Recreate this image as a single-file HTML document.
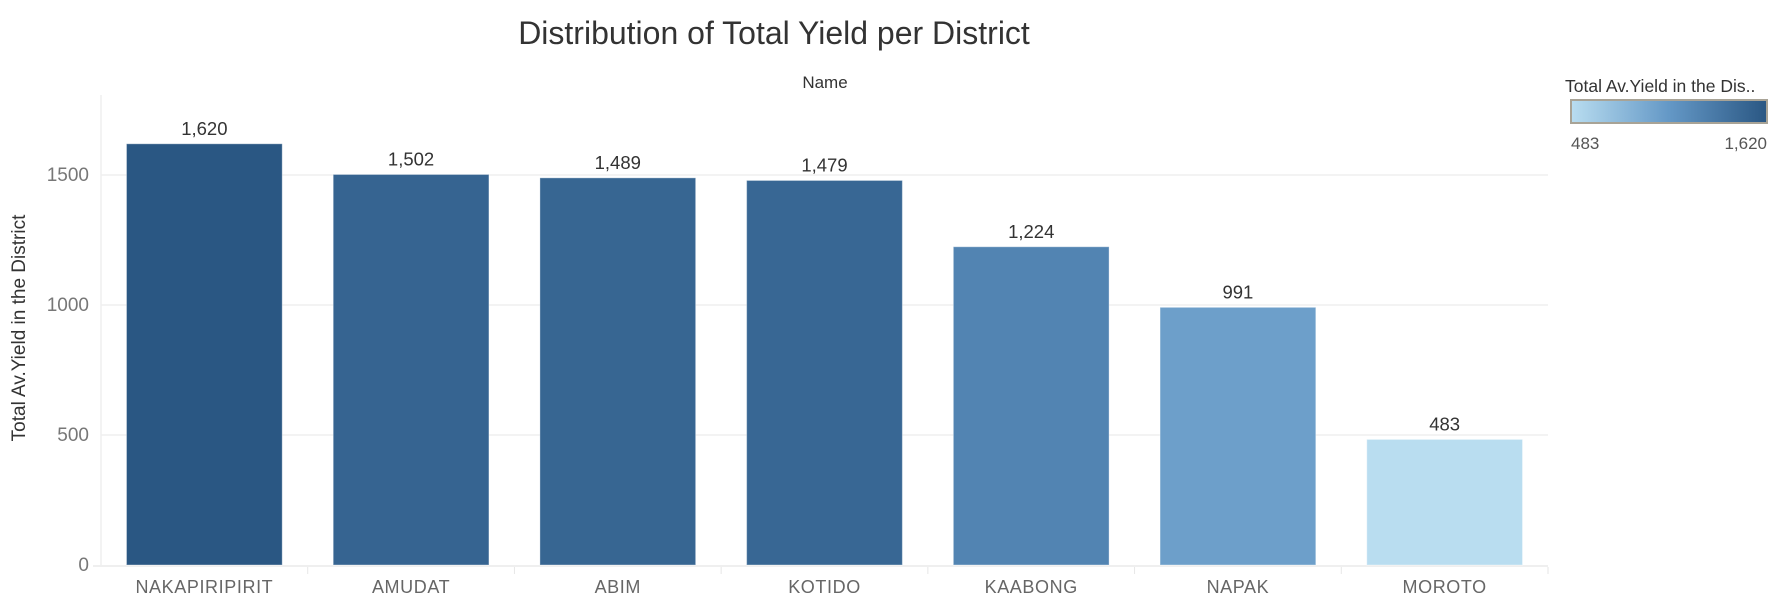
<!DOCTYPE html>
<html><head><meta charset="utf-8"><style>
body{margin:0;background:#fff;width:1775px;height:599px;overflow:hidden;font-family:"Liberation Sans",sans-serif}
svg text{font-family:"Liberation Sans",sans-serif}
</style></head><body>
<svg id="chart" width="1775" height="599">
<text x="774" y="44" font-size="32" fill="#333" text-anchor="middle">Distribution of Total Yield per District</text>
<text x="825" y="88" font-size="17" fill="#333" text-anchor="middle">Name</text>
<text x="25" y="328" font-size="19" fill="#333" text-anchor="middle" transform="rotate(-90 25 328)">Total Av.Yield in the District</text>
<g>
<text x="1565" y="92" font-size="17.5" fill="#333">Total Av.Yield in the Dis..</text>
<defs><linearGradient id="lg" x1="0" x2="1"><stop offset="0" stop-color="#b9ddf0"/><stop offset="0.5" stop-color="#6498c6"/><stop offset="1" stop-color="#2a5783"/></linearGradient></defs>
<rect x="1571" y="100" width="196" height="23" fill="url(#lg)" stroke="#a8a396" stroke-width="2"/>
<text x="1571" y="149" font-size="17" fill="#555">483</text>
<text x="1767" y="149" font-size="17" fill="#555" text-anchor="end">1,620</text>
</g>
<g id="plot"></g>
</svg>
<script>
const categories=["NAKAPIRIPIRIT","AMUDAT","ABIM","KOTIDO","KAABONG","NAPAK","MOROTO"];
const values=[1620,1502,1489,1479,1224,991,483];
const valueLabels=["1,620","1,502","1,489","1,479","1,224","991","483"];
const yTicks=[0,500,1000,1500];

const NS="http://www.w3.org/2000/svg";
const plot=document.getElementById('plot');
const left=101,right=1548,zeroY=565,perUnit=130/500;
const band=(right-left)/categories.length,pad=25.5;
const y=v=>zeroY-v*perUnit;
const x=i=>left+i*band;
function mk(t,a){const e=document.createElementNS(NS,t);for(const k in a)e.setAttribute(k,a[k]);plot.appendChild(e);return e;}
const vmin=Math.min(...values),vmax=Math.max(...values);
const c0=[185,221,240],c1=[100,152,198],c2=[42,87,131];
function color(v){let t=(v-vmin)/(vmax-vmin||1);let a,b,u;if(t<0.5){a=c0;b=c1;u=t*2}else{a=c1;b=c2;u=(t-0.5)*2}
return 'rgb('+a.map((c,i)=>Math.round(c+(b[i]-c)*u)).join(',')+')';}
yTicks.forEach(t=>{
 if(t>0){const g=mk('line',{x1:left,x2:right,y1:y(t),y2:y(t),stroke:'#efefef','stroke-width':1.5});
 
 }
 const l=mk('text',{x:89,y:y(t)+6,'font-size':19,fill:'#777','text-anchor':'end'});l.textContent=t;
 
 
});
const ax=mk('line',{x1:left,x2:left,y1:95,y2:zeroY,stroke:'#efefef','stroke-width':1.5});


const bx=mk('line',{x1:left-8,x2:right,y1:zeroY+1,y2:zeroY+1,stroke:'#efefef','stroke-width':2});


categories.forEach((c,i)=>{
 const tk=mk('line',{x1:x(i+1),x2:x(i+1),y1:zeroY+2,y2:zeroY+9,stroke:'#e6e6e6'});
 
 
 const b=mk('rect',{x:x(i)+pad,y:y(values[i]),width:band-2*pad,height:zeroY-y(values[i]),fill:color(values[i]),stroke:'rgba(255,255,255,0.35)','stroke-width':1});
 
 
 const v=mk('text',{x:x(i)+band/2,y:y(values[i])-9,'font-size':18.5,fill:'#333','text-anchor':'middle'});v.textContent=valueLabels[i];
 
 
 const l=mk('text',{x:x(i)+band/2,y:593,'font-size':18,fill:'#666','text-anchor':'middle','letter-spacing':'0.6'});l.textContent=c;
 
 
});
</script>
</body></html>
